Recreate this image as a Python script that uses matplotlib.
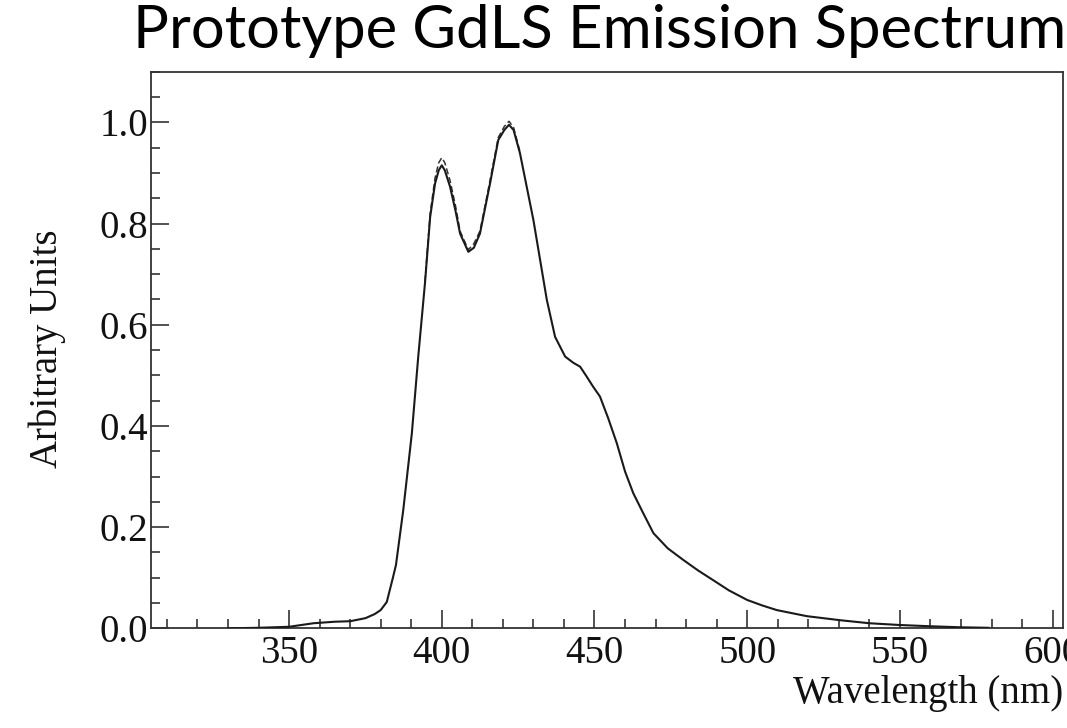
import matplotlib
matplotlib.use("Agg")
import matplotlib.pyplot as plt
from matplotlib.ticker import MultipleLocator

# ---- data ----
wavelength = [330, 340, 350, 358, 365, 370, 375, 378, 380, 382, 384, 385,
              387.4, 390.2, 392.3, 394.5, 396.2, 397.8, 399, 400, 401, 402.7,
              404.5, 406, 408.7, 410.5, 412.5, 414, 415.8, 418.5, 420.5, 422,
              423.5, 425.6, 427.8, 430, 432.2, 434.4, 437.1, 440.4, 443, 445.3,
              447.5, 449.5, 451.8, 454.5, 457.3, 460, 462.7, 466, 469.3, 474,
              479.1, 484, 488.9, 494, 500, 505, 509.7, 519.5, 530.4, 540, 550,
              560, 570, 579]
intensity = [0.0, 0.001, 0.003, 0.010, 0.013, 0.014, 0.020, 0.028, 0.036, 0.052,
             0.100, 0.125, 0.234, 0.385, 0.537, 0.682, 0.813, 0.879, 0.905,
             0.915, 0.905, 0.873, 0.825, 0.780, 0.744, 0.752, 0.780, 0.825,
             0.879, 0.965, 0.985, 0.995, 0.985, 0.939, 0.873, 0.807, 0.728,
             0.649, 0.576, 0.537, 0.525, 0.517, 0.497, 0.478, 0.458, 0.415,
             0.366, 0.310, 0.267, 0.227, 0.188, 0.158, 0.135, 0.114, 0.095,
             0.075, 0.056, 0.045, 0.036, 0.024, 0.016, 0.010, 0.0065, 0.004,
             0.002, 0.001]

# second (dashed) trace, differing only around the peaks
dash_wavelength = [394.5, 396.2, 397.8, 399, 400, 401, 402.7, 404.5, 406, 408.7,
                   410.5, 412.5, 414, 415.8, 418.5, 420.5, 422, 423.5, 425.6]
dash_intensity = [0.685, 0.820, 0.890, 0.920, 0.930, 0.920, 0.885, 0.835, 0.785,
                  0.748, 0.760, 0.785, 0.830, 0.885, 0.970, 0.992, 1.002, 0.990,
                  0.942]

title_text = "Prototype GdLS Emission Spectrum"
xlabel_text = "Wavelength (nm)"
ylabel_text = "Arbitrary Units"
xtick_vals = [350, 400, 450, 500, 550, 600]
ytick_vals = [0.0, 0.2, 0.4, 0.6, 0.8, 1.0]

W, H = 1067, 728
fig = plt.figure(figsize=(W / 100, H / 100), dpi=100)
ax = fig.add_axes([151 / W, 1 - 628.3 / H, (1063 - 151) / W, (628.3 - 71.7) / H])

serif = ["Liberation Serif", "DejaVu Serif"]
FS = 28

ax.plot(wavelength, intensity, color="#1a1a1a", lw=1.5, zorder=3)
ax.plot(dash_wavelength, dash_intensity, color="#333333", lw=1.1,
        ls=(0, (4, 2)), zorder=2)

ax.set_xlim(304.8, 603.4)
ax.set_ylim(0, 1.1)

ax.xaxis.set_minor_locator(MultipleLocator(10))
ax.yaxis.set_minor_locator(MultipleLocator(0.05))

ax.tick_params(which="both", direction="in", top=False, right=False,
               color="#333333", width=1.2)
ax.tick_params(which="major", length=13)
ax.tick_params(which="minor", length=6.5)
ax.tick_params(axis="x", which="major", pad=5)
ax.tick_params(axis="y", which="major", pad=2)

ax.set_xticks(xtick_vals)
ax.set_xticklabels([f"{v:d}" for v in xtick_vals])
ax.set_yticks(ytick_vals)
ax.set_yticklabels([f"{v:.1f}" for v in ytick_vals])
for lab in ax.get_xticklabels() + ax.get_yticklabels():
    lab.set_fontfamily(serif)
    lab.set_fontsize(FS)
    lab.set_color("#111111")

for sp in ax.spines.values():
    sp.set_color("#333333")
    sp.set_linewidth(1.3)

fig.text(1063 / W, 1 - 693 / H, xlabel_text, ha="right", va="center",
         fontsize=FS, family=serif, color="#111111")
fig.text(47 / W, 1 - 349 / H, ylabel_text, ha="center", va="center",
         rotation=90, fontsize=FS, family=serif, color="#111111")

fig.text(133 / W, 1 - 48 / H, title_text, ha="left", va="baseline",
         fontsize=43, family=["Lato", "DejaVu Sans"], color="black")

fig.savefig("out.png", dpi=100)
